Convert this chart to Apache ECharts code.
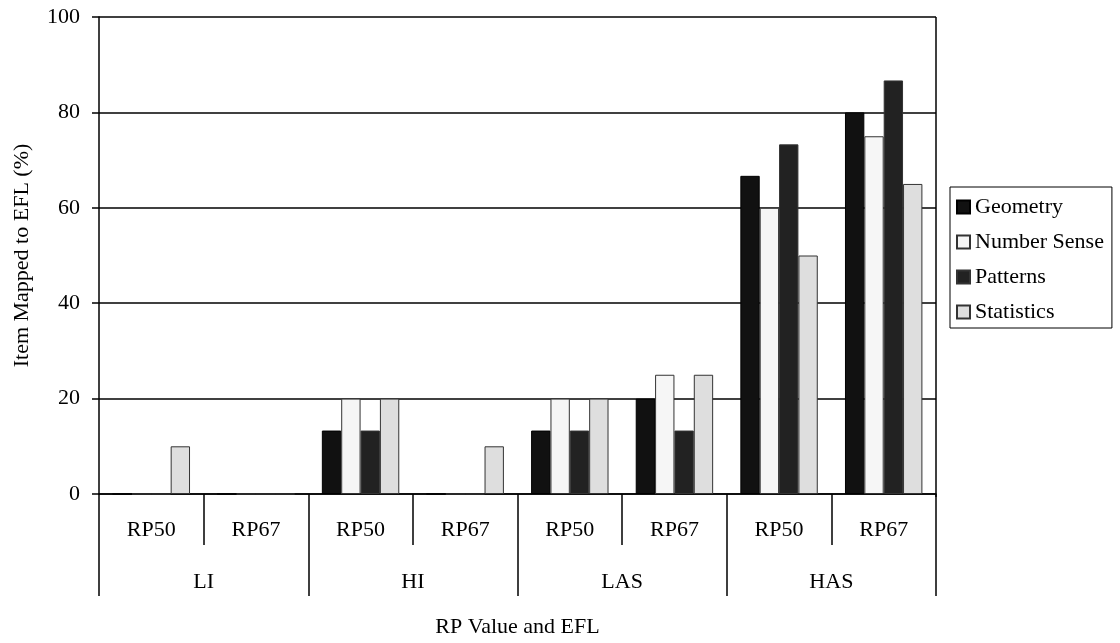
<!DOCTYPE html>
<html>
<head>
<meta charset="utf-8">
<script src="https://cdn.jsdelivr.net/npm/echarts@6/dist/echarts.min.js"></script>
<style>
  html, body { margin: 0; padding: 0; background: #fff; }
  #chart { width: 1120px; height: 643px; }
</style>
</head>
<body>
<div id="chart"></div>
<script>
// categories (inner row = RP value, outer row = EFL)
var rpLabels = ['RP50', 'RP67', 'RP50', 'RP67', 'RP50', 'RP67', 'RP50', 'RP67'];
var eflLabels = ['LI', 'HI', 'LAS', 'HAS'];

// percent of items mapped to EFL
var geometry    = [0, 0, 13.3, 0, 13.3, 20, 66.7, 80];
var numberSense = [0, 0, 20, 0, 20, 25, 60, 75];
var patterns    = [0, 0, 13.3, 0, 13.3, 13.3, 73.3, 86.7];
var statistics  = [10, 0, 20, 10, 20, 25, 50, 65];

var yTicks = [0, 20, 40, 60, 80, 100];

var font = 'Liberation Serif';
var txt = { fontFamily: font, fontSize: 22, color: '#000' };

var chart = echarts.init(document.getElementById('chart'));

function bar(name, data, fill, border) {
  return {
    name: name,
    type: 'bar',
    xAxisIndex: 0,
    data: data,
    barGap: '0%',
    barCategoryGap: '26%',
    itemStyle: { color: fill, borderColor: border, borderWidth: 1 },
    emphasis: { disabled: true }
  };
}

var option = {
  animation: false,
  backgroundColor: '#fff',
  textStyle: { fontFamily: font },
  grid: { left: 99, right: 184, top: 17, bottom: 146, containLabel: false },
  legend: {
    orient: 'vertical',
    left: 950,
    top: 187,
    padding: [9, 8, 5, 6],
    itemGap: 13,
    itemWidth: 13,
    itemHeight: 13,
    icon: 'rect',
    borderColor: '#000',
    borderWidth: 1,
    textStyle: txt,
    data: ['Geometry', 'Number Sense', 'Patterns', 'Statistics']
  },
  xAxis: [
    {
      type: 'category',
      data: rpLabels,
      position: 'bottom',
      axisLine: { show: true, lineStyle: { color: '#000', width: 1.5 } },
      axisTick: { show: true, interval: 0, length: 51, lineStyle: { color: '#000', width: 1.5 } },
      axisLabel: Object.assign({ interval: 0, margin: 25 }, txt),
      splitLine: { show: false }
    },
    {
      type: 'category',
      data: eflLabels,
      position: 'bottom',
      axisLine: { show: false },
      axisTick: { show: true, interval: 0, length: 102, lineStyle: { color: '#000', width: 1.5 } },
      axisLabel: Object.assign({ interval: 0, margin: 77 }, txt),
      splitLine: { show: false },
      name: 'RP Value and EFL',
      nameLocation: 'middle',
      nameGap: 122,
      nameTextStyle: txt
    }
  ],
  yAxis: {
    type: 'value',
    min: yTicks[0],
    max: yTicks[yTicks.length - 1],
    interval: 20,
    name: 'Item Mapped to EFL (%)',
    nameLocation: 'middle',
    nameGap: 66,
    nameTextStyle: txt,
    axisLine: { show: true, lineStyle: { color: '#000', width: 1.5 } },
    axisTick: { show: true, length: 7, lineStyle: { color: '#000', width: 1.5 } },
    axisLabel: Object.assign({ margin: 19 }, txt),
    splitLine: { show: true, lineStyle: { color: '#000', width: 1.5 } }
  },
  graphic: [
    // right border of the plot area
    { type: 'line', shape: { x1: 936, y1: 17, x2: 936, y2: 497 }, style: { stroke: '#000', lineWidth: 1.5 }, z: 10 }
  ],
  series: [
    bar('Geometry', geometry, '#111', '#000'),
    bar('Number Sense', numberSense, '#f6f6f6', '#333'),
    bar('Patterns', patterns, '#222', '#333'),
    bar('Statistics', statistics, '#dedede', '#333')
  ]
};

chart.setOption(option);
</script>
</body>
</html>
